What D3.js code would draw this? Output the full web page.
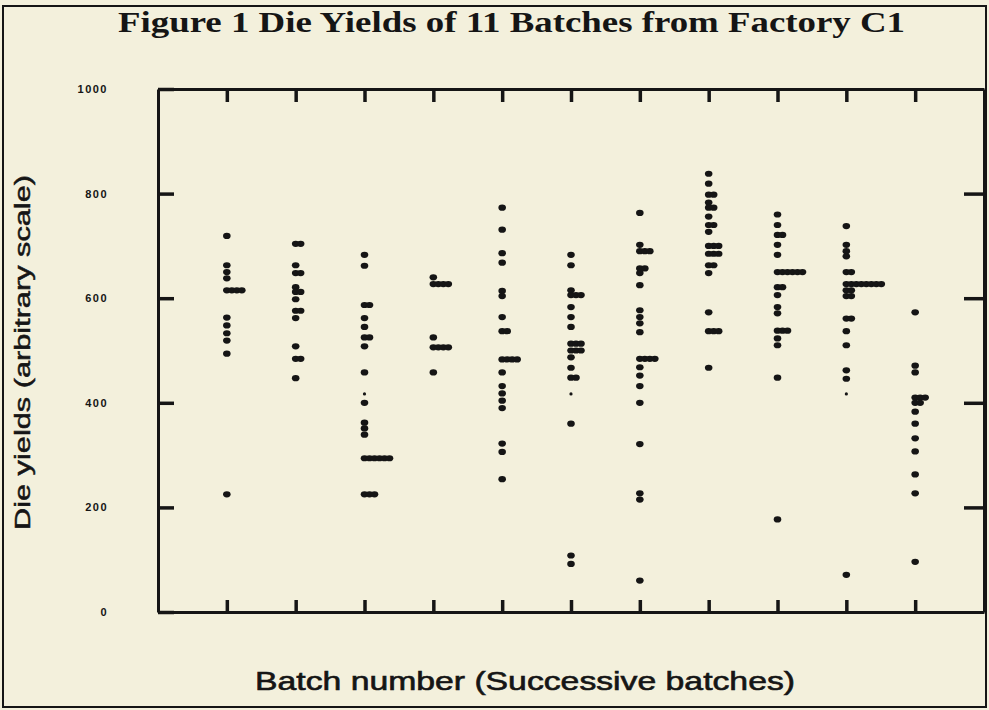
<!DOCTYPE html>
<html><head><meta charset="utf-8">
<script src="https://cdn.jsdelivr.net/npm/d3@7"></script>
<style>body{margin:0;background:#f3f0dc;} svg{display:block}</style>
</head><body><svg id="chart" width="989" height="710"></svg>
<script>
const title = "Figure 1 Die Yields of 11 Batches from Factory C1";
const xLabel = "Batch number (Successive batches)";
const yLabel = "Die yields (arbitrary scale)";
const batches = [1, 2, 3, 4, 5, 6, 7, 8, 9, 10, 11];
const yTicks = [0, 200, 400, 600, 800, 1000];

// die yields per batch (ties repeat and are stacked sideways)
const batch1 = [719, 663, 650, 638, 615, 615, 615, 615, 563, 548, 533, 519, 494, 225];
const batch2 = [704, 704, 663, 648, 648, 621, 612, 612, 598, 576, 576, 562, 508, 484, 484, 447];
const batch3 = [683, 662, 587, 587, 562, 545, 525, 525, 508, 458, 400, 362, 351, 339, 294, 294, 294, 294, 294, 294, 225, 225, 225];
const batch4 = [640, 627, 627, 627, 627, 525, 506, 506, 506, 506, 458];
const batch5 = [773, 731, 686, 668, 614, 604, 564, 537, 537, 483, 483, 483, 483, 458, 432, 418, 404, 390, 322, 306, 254];
const batch6 = [683, 663, 615, 606, 606, 606, 583, 564, 545, 513, 513, 513, 500, 500, 500, 487, 467, 448, 448, 360, 108, 92];
const batch7 = [763, 702, 690, 690, 690, 657, 657, 648, 625, 577, 564, 552, 535, 484, 484, 484, 484, 468, 452, 432, 400, 321, 227, 215, 60];
const batch8 = [838, 819, 798, 798, 783, 773, 773, 756, 740, 740, 727, 700, 700, 700, 685, 685, 685, 663, 663, 648, 573, 537, 537, 537, 467];
const batch9 = [760, 740, 721, 721, 702, 683, 650, 650, 650, 650, 650, 650, 621, 621, 606, 583, 571, 538, 538, 538, 523, 510, 448, 177];
const batch10 = [738, 702, 690, 680, 650, 650, 627, 627, 627, 627, 627, 627, 627, 627, 615, 615, 604, 604, 561, 561, 537, 510, 462, 446, 71];
const batch11 = [573, 471, 458, 410, 410, 410, 400, 400, 383, 360, 332, 307, 263, 227, 96];
// faint (small) marks
const faintBatch = [3, 6, 10];
const faintValue = [417, 417, 417];

const yieldsByBatch = [batch1, batch2, batch3, batch4, batch5, batch6, batch7, batch8, batch9, batch10, batch11];

const ink = "#151515";
const svg = d3.select("#chart");
svg.append("rect").attr("width", 989).attr("height", 710).attr("fill", "#f3f0dc");
svg.append("rect").attr("x", 3).attr("y", 6).attr("width", 983).attr("height", 701)
  .attr("fill", "none").attr("stroke", ink).attr("stroke-width", 2);

const x = d3.scaleLinear().domain([0, 12]).range([158, 984]);
const y = d3.scaleLinear().domain([0, 1000]).range([612, 89]);
const stackStep = 5;

function styleAxis(g, w) {
  g.select(".domain").attr("stroke", ink).attr("stroke-width", 3);
  g.selectAll(".tick line").attr("stroke", ink).attr("stroke-width", w);
}

const leftAxisG = svg.append("g").attr("transform", "translate(158,0)")
  .call(d3.axisLeft(y).tickValues(yTicks).tickFormat(d3.format("d")).tickSize(-16).tickSizeOuter(0).tickPadding(50));
styleAxis(leftAxisG, 3.5);
leftAxisG.selectAll(".tick text").attr("fill", ink).attr("font-family", "Liberation Sans, Arial, sans-serif")
  .attr("font-weight", "bold").attr("font-size", 11).attr("letter-spacing", 1.5);

const rightAxisG = svg.append("g").attr("transform", "translate(984,0)")
  .call(d3.axisRight(y).tickValues(yTicks.slice(1, -1)).tickSize(-20).tickSizeOuter(0).tickFormat(""));
styleAxis(rightAxisG, 3.5);

const topAxisG = svg.append("g").attr("transform", "translate(0,89)")
  .call(d3.axisTop(x).tickValues(batches).tickSize(-13).tickSizeOuter(0).tickFormat(""));
styleAxis(topAxisG, 3.5);

const bottomAxisG = svg.append("g").attr("transform", "translate(0,612)")
  .call(d3.axisBottom(x).tickValues(batches).tickSize(-12).tickSizeOuter(0).tickFormat(""));
styleAxis(bottomAxisG, 3.5);

// stacked dots
const points = [];
yieldsByBatch.forEach((vals, i) => {
  const seen = new Map();
  vals.forEach(v => {
    const k = seen.get(v) || 0;
    seen.set(v, k + 1);
    points.push({ batch: batches[i], value: v, k });
  });
});
svg.append("g").selectAll("ellipse").data(points).join("ellipse")
  .attr("cx", d => x(d.batch) + d.k * stackStep)
  .attr("cy", d => y(d.value))
  .attr("rx", 3.8).attr("ry", 3.1).attr("fill", ink);

svg.append("g").selectAll("circle").data(faintBatch.map((b, i) => ({ b, v: faintValue[i] }))).join("circle")
  .attr("cx", d => x(d.b)).attr("cy", d => y(d.v)).attr("r", 1.6).attr("fill", ink);

// texts
svg.append("text").attr("x", 118).attr("y", 32)
  .attr("font-family", "Liberation Serif, Times New Roman, serif").attr("font-weight", "bold")
  .attr("font-size", 30).attr("fill", ink)
  .attr("textLength", 787).attr("lengthAdjust", "spacingAndGlyphs").text(title);

svg.append("text").attr("x", 255).attr("y", 690)
  .attr("font-family", "Liberation Sans, Arial, sans-serif")
  .attr("font-size", 25).attr("fill", ink).attr("stroke", ink).attr("stroke-width", 0.6)
  .attr("textLength", 540).attr("lengthAdjust", "spacingAndGlyphs").text(xLabel);

svg.append("text").attr("transform", "translate(30,530) rotate(-90)")
  .attr("font-family", "Liberation Sans, Arial, sans-serif")
  .attr("font-size", 22).attr("fill", ink).attr("stroke", ink).attr("stroke-width", 0.5)
  .attr("textLength", 355).attr("lengthAdjust", "spacingAndGlyphs").text(yLabel);
</script></body></html>
